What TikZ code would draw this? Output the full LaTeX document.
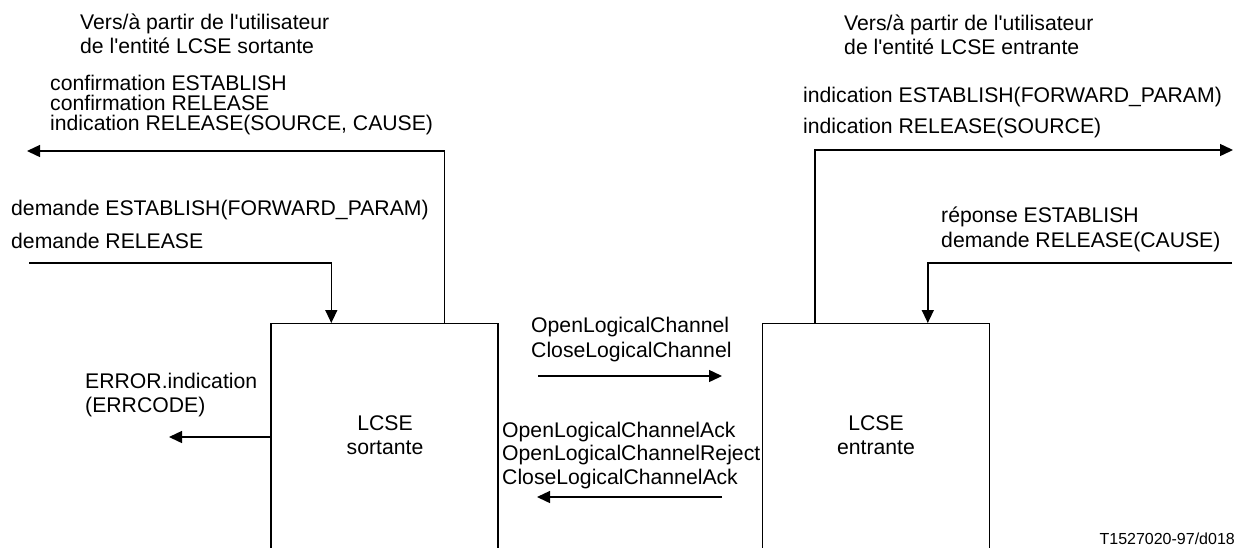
\documentclass[tikz,border=0pt]{standalone}
\usepackage{fontspec}
\setmainfont{Liberation Sans}[Ligatures=TeXOff]
\usetikzlibrary{arrows.meta}
\begin{document}
\begin{tikzpicture}[x=1pt,y=-1pt,
  txt/.style={inner sep=0pt,anchor=base west,font=\fontsize{21.2}{24}\selectfont},
  ctxt/.style={txt,anchor=base},
  small/.style={inner sep=0pt,anchor=base east,font=\fontsize{16}{18}\selectfont},
  entity/.style={draw,line width=1.4pt,rectangle,inner sep=0pt,minimum width=227pt,minimum height=280pt,anchor=north},
  arr/.style={line width=1.4pt,-{Triangle[length=13pt,width=12pt]}}]
\useasboundingbox (0,0) rectangle (1238,547);
% boxes
\node[entity] (boxL) at (384.5,323) {};
\node[entity] (boxR) at (876,323) {};
\node[ctxt] (lcseL1) at (385,430) {LCSE};
\node[ctxt] (lcseL2) at (385,454) {sortante};
\node[ctxt] (lcseR1) at (876,430) {LCSE};
\node[ctxt] (lcseR2) at (876,454) {entrante};
% top-left texts
\node[txt] (tl1) at (80,29) {Vers/à partir de l'utilisateur};
\node[txt] (tl2) at (80,53) {de l'entité LCSE sortante};
\node[txt] (c1) at (50,90) {confirmation ESTABLISH};
\node[txt] (c2) at (50,110) {confirmation RELEASE};
\node[txt] (c3) at (50,130) {indication RELEASE(SOURCE, CAUSE)};
\node[txt] (d1) at (11,215) {demande ESTABLISH(FORWARD\_PARAM)};
\node[txt] (d2) at (11,248) {demande RELEASE};
\node[txt] (e1) at (85,388) {ERROR.indication};
\node[txt] (e2) at (85,412) {(ERRCODE)};
% top-right texts
\node[txt] (tr1) at (844,30) {Vers/à partir de l'utilisateur};
\node[txt] (tr2) at (844,54) {de l'entité LCSE entrante};
\node[txt] (i1) at (803,102) {indication ESTABLISH(FORWARD\_PARAM)};
\node[txt] (i2) at (803,133) {indication RELEASE(SOURCE)};
\node[txt] (r1) at (941,222) {réponse ESTABLISH};
\node[txt] (r2) at (941,247) {demande RELEASE(CAUSE)};
% middle texts
\node[txt] (m1) at (531,332) {OpenLogicalChannel};
\node[txt] (m2) at (531,357) {CloseLogicalChannel};
\node[txt] (a1) at (502,437) {OpenLogicalChannelAck};
\node[txt] (a2) at (502,460) {OpenLogicalChannelReject};
\node[txt] (a3) at (502,484) {CloseLogicalChannelAck};
\node[small] (ref) at (1235,544.5) {T1527020-97/d018};
% free ends
\coordinate (outL) at (27,151);
\coordinate (inL) at (29,263);
\coordinate (errEnd) at (169,437);
\coordinate (outR) at (1233,150);
\coordinate (inR) at (1232,263);
\coordinate (fwdS) at (538,376);
\coordinate (fwdE) at (722,376);
\coordinate (bwdS) at (722,497);
\coordinate (bwdE) at (537,497);
% connectors
\draw[arr] ([xshift=174pt]boxL.north west) |- (outL);
\draw[arr] (inL) -| ([xshift=61pt]boxL.north west);
\draw[arr] ([yshift=-114pt]boxL.north west) -- (errEnd);
\draw[arr] ([xshift=53pt]boxR.north west) |- (outR);
\draw[arr] (inR) -| ([xshift=166pt]boxR.north west);
\draw[arr] (fwdS) -- (fwdE);
\draw[arr] (bwdS) -- (bwdE);
\end{tikzpicture}
\end{document}
